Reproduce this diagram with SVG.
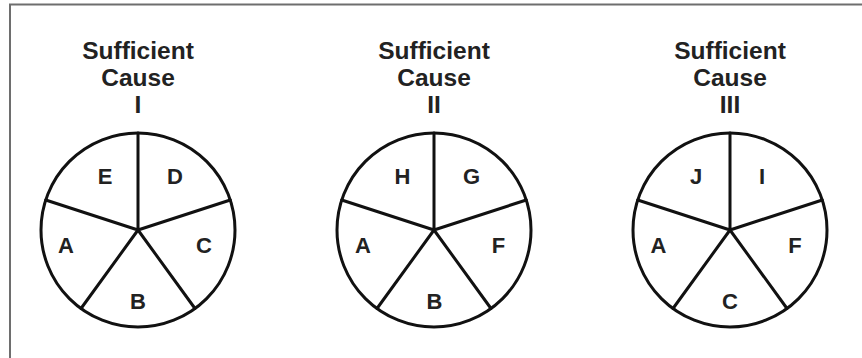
<svg xmlns="http://www.w3.org/2000/svg" width="862" height="358" viewBox="0 0 862 358">
<style>
.frame{fill:none;stroke:#6e6e6e;stroke-width:2}
.pie{fill:#fff;stroke:#111;stroke-width:3}
.spoke{stroke:#111;stroke-width:3;stroke-linecap:round;fill:none}
.title{font-family:"Liberation Sans",Arial,sans-serif;font-weight:bold;font-size:24.5px;fill:#222;text-anchor:middle}
.lbl{font-family:"Liberation Sans",Arial,sans-serif;font-weight:bold;font-size:22px;fill:#222;text-anchor:middle}
</style>
<defs>
<g id="pieShape">
<circle cx="0" cy="0" r="97" class="pie"/>
<path class="spoke" d="M0 0V-97M0 0L92.3 -30M0 0L57 78.5M0 0L-57 78.5M0 0L-92.3 -30"/>
</g>
</defs>
<rect x="10" y="4.5" width="870" height="370" class="frame"/>
<g id="connectors"/>
<g id="cause1">
<text class="title" x="138" y="58.5">Sufficient</text>
<text class="title" x="138" y="85.5">Cause</text>
<text class="title" x="138" y="113">I</text>
<use href="#pieShape" x="138" y="230"/>
<text class="lbl" x="105" y="183.5">E</text>
<text class="lbl" x="175" y="183.5">D</text>
<text class="lbl" x="66" y="252.5">A</text>
<text class="lbl" x="204" y="252.5">C</text>
<text class="lbl" x="138" y="309">B</text>
</g>
<g id="cause2">
<text class="title" x="434" y="58.5">Sufficient</text>
<text class="title" x="434" y="85.5">Cause</text>
<text class="title" x="434" y="113">II</text>
<use href="#pieShape" x="434" y="230"/>
<text class="lbl" x="402.5" y="183.5">H</text>
<text class="lbl" x="471.5" y="183.5">G</text>
<text class="lbl" x="363" y="252.5">A</text>
<text class="lbl" x="498.5" y="252.5">F</text>
<text class="lbl" x="434.5" y="308.5">B</text>
</g>
<g id="cause3">
<text class="title" x="730" y="58.5">Sufficient</text>
<text class="title" x="730" y="85.5">Cause</text>
<text class="title" x="730" y="113">III</text>
<use href="#pieShape" x="730" y="230"/>
<text class="lbl" x="696" y="183.5">J</text>
<text class="lbl" x="762" y="183.5">I</text>
<text class="lbl" x="658.5" y="252.5">A</text>
<text class="lbl" x="795" y="252.5">F</text>
<text class="lbl" x="730" y="308.5">C</text>
</g>
</svg>
